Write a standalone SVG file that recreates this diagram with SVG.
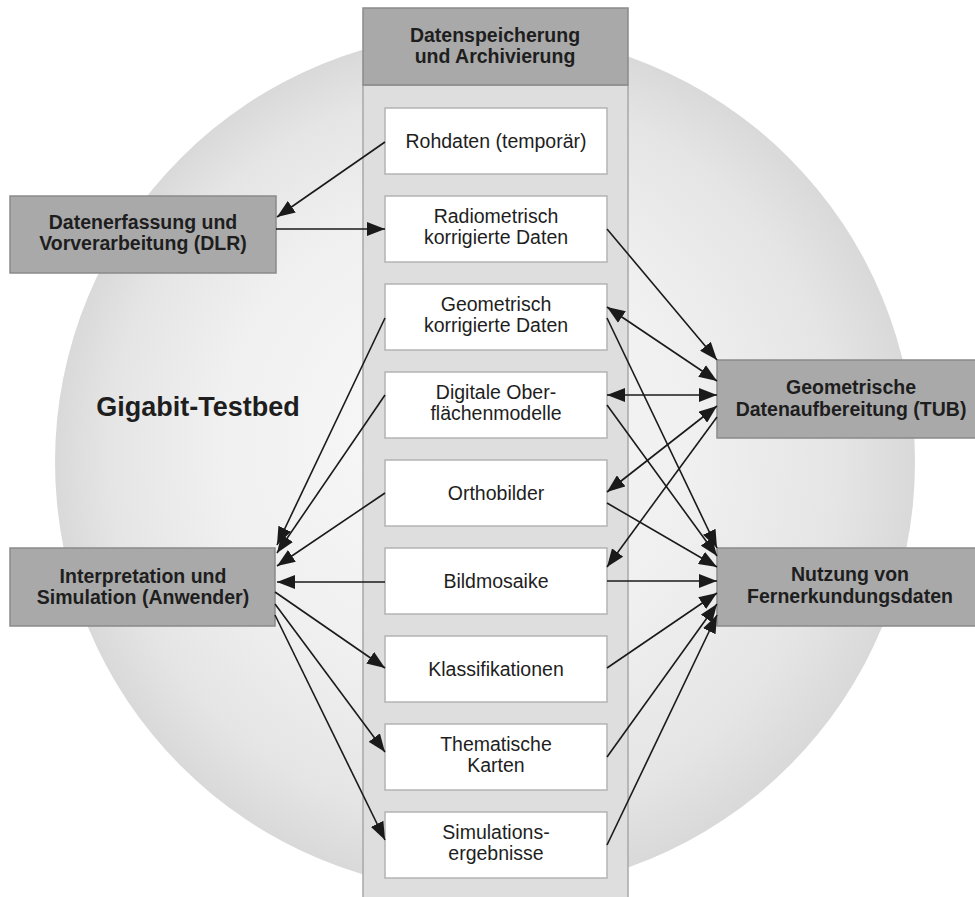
<svg xmlns="http://www.w3.org/2000/svg" width="975" height="897" viewBox="0 0 975 897">
<style>
.t{font-family:"Liberation Sans",Arial,sans-serif;font-size:19.5px;fill:#1e1e1e;text-anchor:middle}
.b{font-weight:bold}
.gray{fill:#a9a9a9;stroke:#8a8a8a;stroke-width:1.5}
.white{fill:#ffffff;stroke:#b4b4b4;stroke-width:1.5}
.c{fill:none;stroke:#1a1a1a;stroke-width:1.6}
</style>
<defs>
<radialGradient id="bg" cx="0.5" cy="0.5" r="0.5" fx="0.42" fy="0.45">
<stop offset="0" stop-color="#f8f8f8"/>
<stop offset="0.55" stop-color="#f0f0f0"/>
<stop offset="0.85" stop-color="#e5e5e5"/>
<stop offset="1" stop-color="#d9d9d9"/>
</radialGradient>
<marker id="a" viewBox="0 0 18 14" refX="18" refY="7" markerWidth="18" markerHeight="14" markerUnits="userSpaceOnUse" orient="auto-start-reverse">
<path d="M0,0 L18,7 L0,14 z" fill="#1a1a1a"/>
</marker>
</defs>
<rect x="0" y="0" width="975" height="897" fill="#ffffff"/>
<circle cx="485" cy="462" r="430" fill="url(#bg)"/>
<text class="t b" x="198" y="416" style="font-size:27px">Gigabit-Testbed</text>

<g id="column">
<rect x="363" y="85" width="265" height="820" fill="#dedede" stroke="#a8a8a8" stroke-width="1.5"/>
<rect class="gray" x="363" y="8" width="265" height="77"/>
<text class="t b" x="495" y="42">Datenspeicherung</text>
<text class="t b" x="495" y="63">und Archivierung</text>
</g>

<g id="rohdaten"><rect class="white" x="385" y="108" width="222" height="66"/><text class="t" x="496" y="148">Rohdaten (temporär)</text></g>
<g id="radiometrisch"><rect class="white" x="385" y="196" width="222" height="66"/><text class="t" x="496" y="223">Radiometrisch</text><text class="t" x="496" y="244">korrigierte Daten</text></g>
<g id="geometrisch"><rect class="white" x="385" y="284" width="222" height="66"/><text class="t" x="496" y="311">Geometrisch</text><text class="t" x="496" y="332">korrigierte Daten</text></g>
<g id="digitale"><rect class="white" x="385" y="372" width="222" height="66"/><text class="t" x="496" y="399">Digitale Ober-</text><text class="t" x="496" y="420">flächenmodelle</text></g>
<g id="orthobilder"><rect class="white" x="385" y="460" width="222" height="66"/><text class="t" x="496" y="500">Orthobilder</text></g>
<g id="bildmosaike"><rect class="white" x="385" y="548" width="222" height="66"/><text class="t" x="496" y="588">Bildmosaike</text></g>
<g id="klassifikationen"><rect class="white" x="385" y="636" width="222" height="66"/><text class="t" x="496" y="676">Klassifikationen</text></g>
<g id="thematische"><rect class="white" x="385" y="724" width="222" height="66"/><text class="t" x="496" y="751">Thematische</text><text class="t" x="496" y="772">Karten</text></g>
<g id="simulationen"><rect class="white" x="385" y="812" width="222" height="66"/><text class="t" x="496" y="839">Simulations-</text><text class="t" x="496" y="860">ergebnisse</text></g>

<g id="dlr"><rect class="gray" x="10" y="196" width="266" height="77"/><text class="t b" x="143" y="229">Datenerfassung und</text><text class="t b" x="143" y="250">Vorverarbeitung (DLR)</text></g>
<g id="interpretation"><rect class="gray" x="10" y="548" width="265" height="78"/><text class="t b" x="143" y="583">Interpretation und</text><text class="t b" x="143" y="604">Simulation (Anwender)</text></g>
<g id="tub"><rect class="gray" x="717" y="360" width="270" height="78"/><text class="t b" x="851" y="394">Geometrische</text><text class="t b" x="851" y="416">Datenaufbereitung (TUB)</text></g>
<g id="nutzung"><rect class="gray" x="717" y="548" width="270" height="78"/><text class="t b" x="850" y="581">Nutzung von</text><text class="t b" x="850" y="603">Fernerkundungsdaten</text></g>

<g id="connectors" class="c">
<path class="c" d="M385,142 L277,217" marker-end="url(#a)"/>
<path class="c" d="M276,229 L385,229" marker-end="url(#a)"/>
<path class="c" d="M607,229 L717,360" marker-end="url(#a)"/>
<path class="c" d="M607,307 L717,381" marker-start="url(#a)" marker-end="url(#a)"/>
<path class="c" d="M607,395 L717,395" marker-start="url(#a)" marker-end="url(#a)"/>
<path class="c" d="M607,492 L717,406" marker-start="url(#a)" marker-end="url(#a)"/>
<path class="c" d="M717,417 L607,567" marker-end="url(#a)"/>
<path class="c" d="M607,318 L717,548" marker-end="url(#a)"/>
<path class="c" d="M607,405 L717,556" marker-end="url(#a)"/>
<path class="c" d="M607,503 L717,567" marker-end="url(#a)"/>
<path class="c" d="M607,581 L717,581" marker-end="url(#a)"/>
<path class="c" d="M607,668 L717,593" marker-end="url(#a)"/>
<path class="c" d="M607,757 L717,604" marker-end="url(#a)"/>
<path class="c" d="M607,845 L717,615" marker-end="url(#a)"/>
<path class="c" d="M385,318 L277,545" marker-end="url(#a)"/>
<path class="c" d="M385,395 L277,553" marker-end="url(#a)"/>
<path class="c" d="M385,493 L277,566" marker-end="url(#a)"/>
<path class="c" d="M385,582 L277,582" marker-end="url(#a)"/>
<path class="c" d="M275,592 L385,668" marker-end="url(#a)"/>
<path class="c" d="M275,604 L385,752" marker-end="url(#a)"/>
<path class="c" d="M275,615 L385,840" marker-end="url(#a)"/>
</g>
</svg>
